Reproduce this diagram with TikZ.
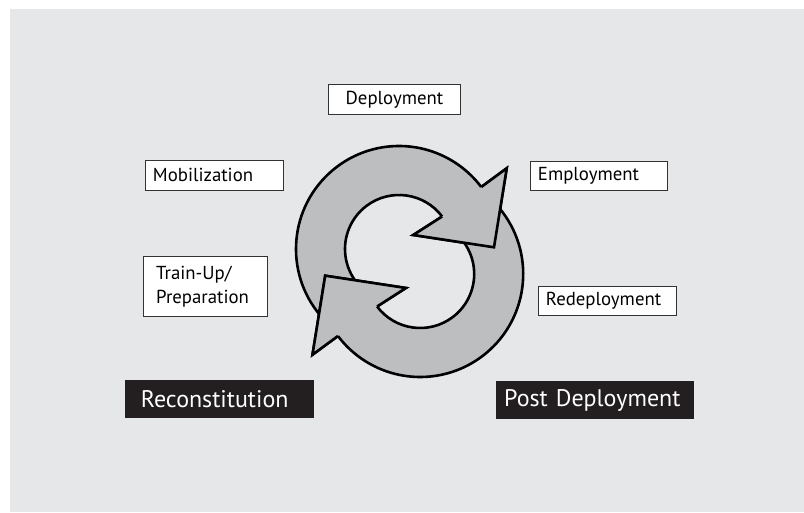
\documentclass[tikz,border=0pt]{standalone}
\usepackage{fontspec}
\setmainfont{PT Sans}
\usepackage{xcolor}
\usepackage{tikz}
\usetikzlibrary{positioning,calc}

\definecolor{paper}{HTML}{E6E7E8}
\definecolor{ringgray}{HTML}{BCBEC0}
\definecolor{stageblack}{HTML}{231F20}

\begin{document}
\begin{tikzpicture}[x=1pt, y=1pt,
    phase/.style={rectangle, draw=black!80, line width=0.9pt, fill=white, anchor=west, align=left, inner xsep=7.5pt, minimum height=29.5pt, font=\fontsize{18.8}{24}\selectfont},
    stage/.style={rectangle, fill=stageblack, text=white, anchor=west, align=left, minimum height=38pt, font=\fontsize{24}{28}\selectfont},
    ring/.style={fill=ringgray, draw=black, line width=2.6pt, line join=miter}]
    \useasboundingbox (0,0) rectangle (804,512);
    \fill[paper] (10,0) rectangle (804,503);

    \foreach \turn in {0,180} {
      \begin{scope}[rotate around={\turn:(409.6,250.5)}, shift={(399,263)}]
        \filldraw[ring] (220:103) arc[start angle=220, end angle=37, radius=103pt] -- (107.7,80.7) -- (95,1.7) -- (14.3,14) -- (37:54) arc[start angle=37, end angle=220, radius=54pt] -- cycle;
      \end{scope}
    }
    \foreach \turn in {0,180} {
      \begin{scope}[rotate around={\turn:(409.6,250.5)}, shift={(399,263)}]
        \fill[ringgray] (37:103) -- (107.7,80.7) -- (95,1.7) -- (14.3,14) -- (37:54) -- cycle;
        \draw[ring, fill=none] (37:103) -- (107.7,80.7) -- (95,1.7) -- (14.3,14) -- (37:54);
      \end{scope}
    }

    \node (deploy) [phase, align=center, text width=117pt] at (328,412.7) {Deployment};
    \node (mobil) [phase, text width=123pt] at (145,336.6) {Mobilization};
    \node (employ) [phase, text width=122pt] at (530,336.1) {Employment};
    \node (redeploy) [phase, text width=123pt] at (538,211) {Redeployment};
    \node (trainup) [phase, inner xsep=13pt, text width=98.6pt, minimum height=59.3pt] at (142.7,225.6) {Train-Up/\\Preparation};
    \node (recon) [stage, inner xsep=15.7pt, text width=157pt] at (125,112.5) {Reconstitution};
    \node (postdeploy) [stage, inner xsep=8.3pt, text width=181pt] at (495.7,111.8) {Post Deployment};
\end{tikzpicture}
\end{document}
